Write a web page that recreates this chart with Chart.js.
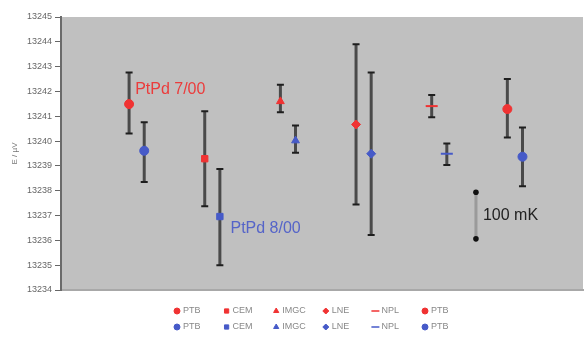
<!DOCTYPE html>
<html>
<head>
<meta charset="utf-8">
<style>
  html, body { margin: 0; padding: 0; background: #fff; }
</style>
</head>
<body>
<canvas id="emfChart" width="585" height="341"></canvas>
<script src="https://cdn.jsdelivr.net/npm/chart.js@4/dist/chart.umd.js"></script>
<script>
const labs = ['PTB', 'CEM', 'IMGC', 'LNE', 'NPL', 'PTB']
const markers = ['circle', 'rect', 'triangle', 'rectRot', 'line', 'circle']

// thermocouple PtPd 7/00 (red)
const tc700 = [13241.49, 13239.29, 13241.60, 13240.67, 13241.41, 13241.29]
const tc700Low = [13240.31, 13237.37, 13241.16, 13237.45, 13240.96, 13240.14]
const tc700High = [13242.76, 13241.20, 13242.27, 13243.90, 13241.86, 13242.50]

// thermocouple PtPd 8/00 (blue)
const tc800 = [13239.61, 13236.96, 13240.02, 13239.49, 13239.49, 13239.37]
const tc800Low = [13238.35, 13235.00, 13239.53, 13236.22, 13239.04, 13238.18]
const tc800High = [13240.76, 13238.88, 13240.63, 13242.76, 13239.90, 13240.55]

const yTicks = [13234, 13235, 13236, 13237, 13238, 13239, 13240, 13241, 13242, 13243, 13244, 13245]

// 100 mK scale bar
const scaleBar = [13236.06, 13237.94]

const RED = 'rgb(240, 50, 50)'
const BLUE = 'rgb(70, 90, 200)'
const FONT = '"Liberation Sans", Arial, sans-serif'

function makeSets(vals, lows, highs, color, shift) {
    return labs.map((lab, i) => ({
        label: lab,
        data: [{ x: i + 1 + shift, y: vals[i] }],
        errLow: [lows[i]],
        errHigh: [highs[i]],
        pointStyle: markers[i],
        pointRadius: markers[i] === 'line' ? 6 : 4.5,
        pointBorderWidth: markers[i] === 'line' ? 2 : 1,
        backgroundColor: color,
        borderColor: color,
        showLine: false
    }))
}

const datasets = makeSets(tc700, tc700Low, tc700High, RED, -0.1)
    .concat(makeSets(tc800, tc800Low, tc800High, BLUE, 0.1))

// grey plot background
const plotBg = {
    id: 'plotBg',
    beforeDraw(chart) {
        const { ctx, chartArea: a } = chart
        ctx.save()
        ctx.fillStyle = '#c0c0c0'
        ctx.fillRect(a.left, a.top, a.right - a.left, a.bottom - a.top)
        ctx.restore()
    }
}

// vertical error bars with caps
const errorBars = {
    id: 'errorBars',
    beforeDatasetsDraw(chart) {
        const { ctx, scales: { y } } = chart
        ctx.save()
        chart.data.datasets.forEach((ds, i) => {
            if (!ds.errLow) return
            chart.getDatasetMeta(i).data.forEach((pt, j) => {
                const top = y.getPixelForValue(ds.errHigh[j])
                const bot = y.getPixelForValue(ds.errLow[j])
                ctx.strokeStyle = '#4a4a4a'
                ctx.lineWidth = 3
                ctx.beginPath()
                ctx.moveTo(pt.x, top)
                ctx.lineTo(pt.x, bot)
                ctx.stroke()
                ctx.strokeStyle = '#1e1e1e'
                ctx.lineWidth = 2
                ctx.beginPath()
                ctx.moveTo(pt.x - 3.5, top)
                ctx.lineTo(pt.x + 3.5, top)
                ctx.moveTo(pt.x - 3.5, bot)
                ctx.lineTo(pt.x + 3.5, bot)
                ctx.stroke()
            })
        })
        ctx.restore()
    }
}

// text labels and the 100 mK bar
const notes = {
    id: 'notes',
    afterDatasetsDraw(chart) {
        const { ctx, scales: { x, y } } = chart
        ctx.save()
        ctx.font = '16px ' + FONT
        ctx.textBaseline = 'middle'
        ctx.fillStyle = 'rgb(235, 60, 60)'
        ctx.fillText('PtPd 7/00', x.getPixelForValue(0.98), y.getPixelForValue(13242.06))
        ctx.fillStyle = 'rgb(85, 100, 200)'
        ctx.fillText('PtPd 8/00', x.getPixelForValue(2.24), y.getPixelForValue(13236.47))

        const bx = x.getPixelForValue(5.485)
        const b0 = y.getPixelForValue(scaleBar[0])
        const b1 = y.getPixelForValue(scaleBar[1])
        ctx.strokeStyle = '#9a9a9a'
        ctx.lineWidth = 3
        ctx.beginPath()
        ctx.moveTo(bx, b0)
        ctx.lineTo(bx, b1)
        ctx.stroke()
        ctx.fillStyle = '#111'
        ;[b0, b1].forEach(py => {
            ctx.beginPath()
            ctx.arc(bx, py, 2.8, 0, Math.PI * 2)
            ctx.fill()
        })
        ctx.fillStyle = '#222'
        ctx.fillText('100 mK', bx + 7, y.getPixelForValue(13237.0))
        ctx.restore()
    }
}

// two-row legend below the plot
const bottomLegend = {
    id: 'bottomLegend',
    afterDraw(chart) {
        const ctx = chart.ctx
        const sets = chart.data.datasets
        ctx.save()
        ctx.font = '9px ' + FONT
        ctx.textBaseline = 'middle'
        sets.forEach((ds, k) => {
            const row = Math.floor(k / 6)
            const col = k % 6
            const px = 177 + col * 49.6
            const py = 311 + row * 16
            ctx.fillStyle = ds.backgroundColor
            ctx.strokeStyle = ds.borderColor
            ctx.lineWidth = ds.pointStyle === 'line' ? 1.5 : 1
            Chart.helpers.drawPoint(ctx, {
                pointStyle: ds.pointStyle,
                radius: ds.pointStyle === 'line' ? 4 : 3,
                borderWidth: ctx.lineWidth,
                rotation: 0
            }, px, py)
            ctx.fillStyle = '#888'
            ctx.fillText(ds.label, px + 6, py)
        })
        ctx.restore()
    }
}

const emfChart = document.getElementById('emfChart')

new Chart(emfChart, {
    type: 'scatter',
    data: { datasets: datasets },
    plugins: [plotBg, errorBars, notes, bottomLegend],
    options: {
        responsive: false,
        animation: false,
        events: [],
        layout: { autoPadding: false, padding: { top: 17, right: 2, bottom: 51, left: 0 } },
        plugins: {
            legend: { display: false },
            tooltip: { enabled: false }
        },
        scales: {
            x: {
                type: 'linear',
                min: 0,
                max: 6.9,
                ticks: { display: false },
                grid: { display: false },
                border: { color: '#a8a8a8', width: 2 },
                afterFit(scale) { scale.height = 0 }
            },
            y: {
                min: yTicks[0],
                max: yTicks[yTicks.length - 1],
                afterBuildTicks(scale) {
                    scale.ticks = yTicks.map(v => ({ value: v }))
                },
                afterFit(scale) { scale.width = 61 },
                ticks: {
                    color: '#666',
                    font: { size: 9, family: FONT },
                    padding: 3,
                    callback: v => String(v)
                },
                grid: {
                    drawOnChartArea: false,
                    tickLength: 6,
                    color: '#666'
                },
                border: { color: '#6a6a6a', width: 2 },
                title: {
                    display: true,
                    text: 'E / µV',
                    color: '#777',
                    font: { size: 8, family: FONT },
                    padding: { top: 10, bottom: 0 }
                }
            }
        }
    }
})
</script>
</body>
</html>
